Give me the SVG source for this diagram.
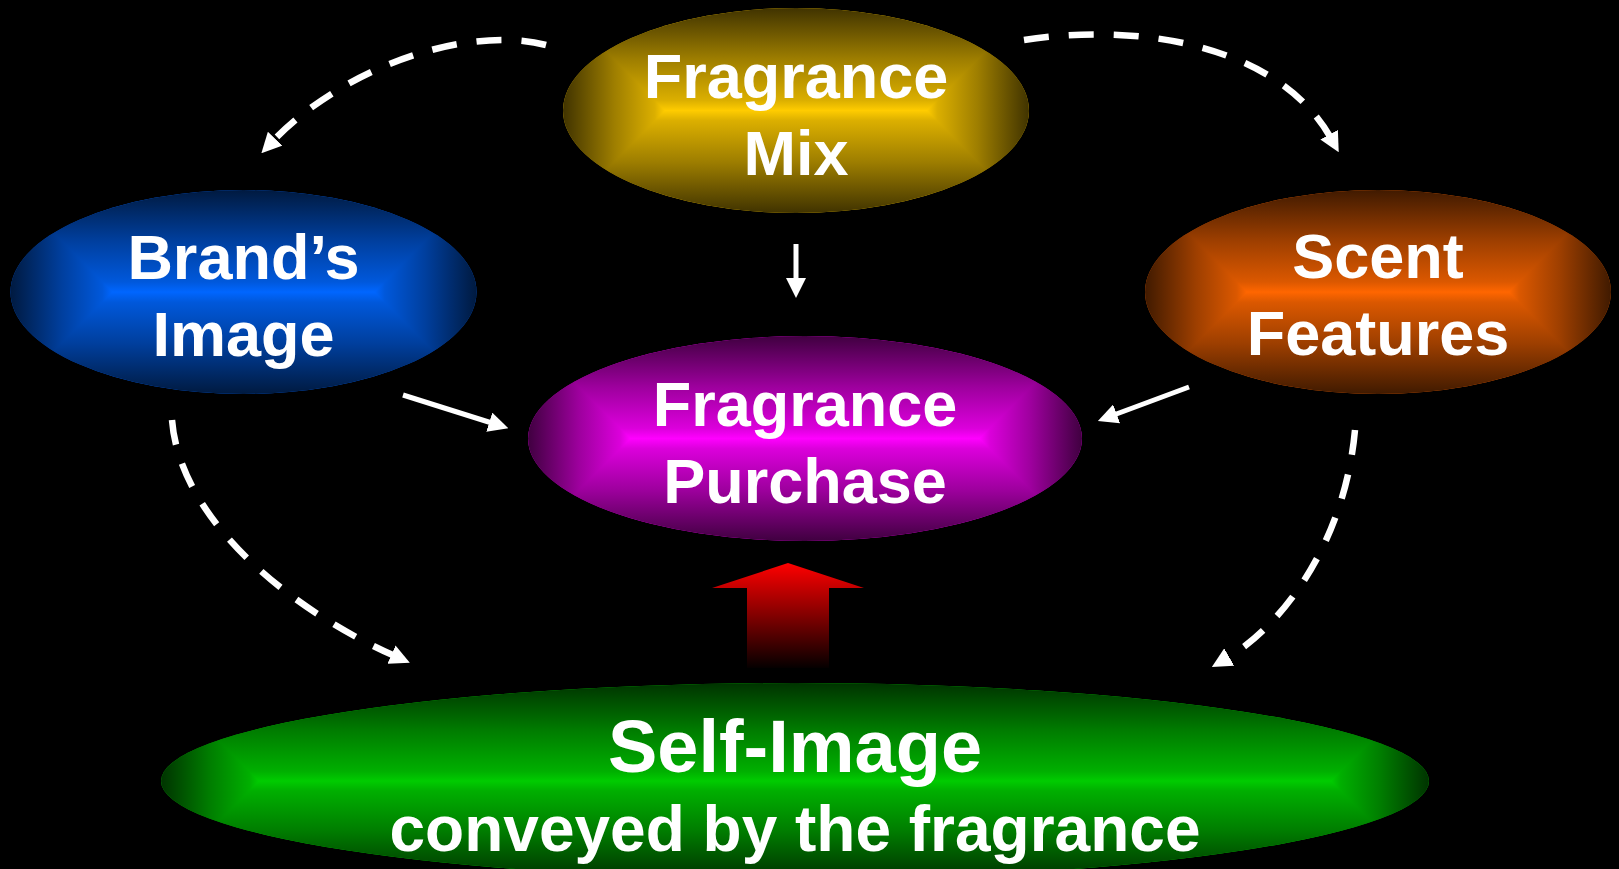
<svg xmlns="http://www.w3.org/2000/svg" width="1619" height="869" viewBox="0 0 1619 869">
<style>
.lbl{font-family:"Liberation Sans",Arial,sans-serif;font-weight:bold;fill:#fff;text-anchor:middle}
.t63{font-size:63px}
.t74{font-size:74px}
.t64{font-size:64px}
.dash{fill:none;stroke:#fff;stroke-width:6.5;stroke-dasharray:25 20;marker-end:url(#ah)}
.solid{fill:none;stroke:#fff;stroke-width:5;marker-end:url(#ah)}
.blend{mix-blend-mode:darken}
.iso{isolation:isolate}
</style>
<defs>
<marker id="ah" viewBox="0 0 20 20" refX="6" refY="10" markerWidth="20" markerHeight="20" markerUnits="userSpaceOnUse" orient="auto">
<path d="M0,0 L20,10 L0,20 z" fill="#fff"/>
</marker>
<linearGradient id="yV" x1="0" y1="0" x2="0" y2="1">
<stop offset="0" stop-color="#403300"/><stop offset="0.25" stop-color="#9e7e00"/><stop offset="0.45" stop-color="#dbaf00"/><stop offset="0.5" stop-color="#ffcc00"/><stop offset="0.55" stop-color="#dbaf00"/><stop offset="0.75" stop-color="#9e7e00"/><stop offset="1" stop-color="#403300"/>
</linearGradient>
<linearGradient id="yH" x1="0" y1="0" x2="1" y2="0">
<stop offset="0" stop-color="#403300"/><stop offset="0.11" stop-color="#9e7e00"/><stop offset="0.197" stop-color="#dbaf00"/><stop offset="0.219" stop-color="#ffcc00"/><stop offset="0.781" stop-color="#ffcc00"/><stop offset="0.803" stop-color="#dbaf00"/><stop offset="0.89" stop-color="#9e7e00"/><stop offset="1" stop-color="#403300"/>
</linearGradient>
<linearGradient id="bV" x1="0" y1="0" x2="0" y2="1">
<stop offset="0" stop-color="#001a40"/><stop offset="0.25" stop-color="#003f9e"/><stop offset="0.45" stop-color="#0058db"/><stop offset="0.5" stop-color="#0066ff"/><stop offset="0.55" stop-color="#0058db"/><stop offset="0.75" stop-color="#003f9e"/><stop offset="1" stop-color="#001a40"/>
</linearGradient>
<linearGradient id="bH" x1="0" y1="0" x2="1" y2="0">
<stop offset="0" stop-color="#001a40"/><stop offset="0.11" stop-color="#003f9e"/><stop offset="0.197" stop-color="#0058db"/><stop offset="0.219" stop-color="#0066ff"/><stop offset="0.781" stop-color="#0066ff"/><stop offset="0.803" stop-color="#0058db"/><stop offset="0.89" stop-color="#003f9e"/><stop offset="1" stop-color="#001a40"/>
</linearGradient>
<linearGradient id="oV" x1="0" y1="0" x2="0" y2="1">
<stop offset="0" stop-color="#401a00"/><stop offset="0.25" stop-color="#9e3f00"/><stop offset="0.45" stop-color="#db5800"/><stop offset="0.5" stop-color="#ff6600"/><stop offset="0.55" stop-color="#db5800"/><stop offset="0.75" stop-color="#9e3f00"/><stop offset="1" stop-color="#401a00"/>
</linearGradient>
<linearGradient id="oH" x1="0" y1="0" x2="1" y2="0">
<stop offset="0" stop-color="#401a00"/><stop offset="0.11" stop-color="#9e3f00"/><stop offset="0.197" stop-color="#db5800"/><stop offset="0.219" stop-color="#ff6600"/><stop offset="0.781" stop-color="#ff6600"/><stop offset="0.803" stop-color="#db5800"/><stop offset="0.89" stop-color="#9e3f00"/><stop offset="1" stop-color="#401a00"/>
</linearGradient>
<linearGradient id="mV" x1="0" y1="0" x2="0" y2="1">
<stop offset="0" stop-color="#400040"/><stop offset="0.25" stop-color="#9e009e"/><stop offset="0.45" stop-color="#db00db"/><stop offset="0.5" stop-color="#ff00ff"/><stop offset="0.55" stop-color="#db00db"/><stop offset="0.75" stop-color="#9e009e"/><stop offset="1" stop-color="#400040"/>
</linearGradient>
<linearGradient id="mH" x1="0" y1="0" x2="1" y2="0">
<stop offset="0" stop-color="#400040"/><stop offset="0.0925" stop-color="#9e009e"/><stop offset="0.1665" stop-color="#db00db"/><stop offset="0.185" stop-color="#ff00ff"/><stop offset="0.815" stop-color="#ff00ff"/><stop offset="0.8335" stop-color="#db00db"/><stop offset="0.9075" stop-color="#9e009e"/><stop offset="1" stop-color="#400040"/>
</linearGradient>
<linearGradient id="gV" x1="0" y1="0" x2="0" y2="1">
<stop offset="0" stop-color="#003300"/><stop offset="0.25" stop-color="#007e00"/><stop offset="0.45" stop-color="#00af00"/><stop offset="0.5" stop-color="#00cc00"/><stop offset="0.55" stop-color="#00af00"/><stop offset="0.75" stop-color="#007e00"/><stop offset="1" stop-color="#003300"/>
</linearGradient>
<linearGradient id="gH" x1="0" y1="0" x2="1" y2="0">
<stop offset="0" stop-color="#003300"/><stop offset="0.0387" stop-color="#007e00"/><stop offset="0.0696" stop-color="#00af00"/><stop offset="0.0773" stop-color="#00cc00"/><stop offset="0.9227" stop-color="#00cc00"/><stop offset="0.9304" stop-color="#00af00"/><stop offset="0.9613" stop-color="#007e00"/><stop offset="1" stop-color="#003300"/>
</linearGradient>
<linearGradient id="red" gradientUnits="userSpaceOnUse" x1="0" y1="563" x2="0" y2="670">
<stop offset="0" stop-color="#ff0000"/><stop offset="1" stop-color="#000000"/>
</linearGradient>
</defs>
<rect x="0" y="0" width="1619" height="869" fill="#000"/>

<g id="connectors">
<path class="dash" d="M546,45 C470,25 345,65 271,143"/>
<path class="dash" d="M1024,40 C1140,22 1280,45 1332,140"/>
<path class="dash" d="M172,420 C180,520 290,610 397,657"/>
<path class="dash" d="M1355,430 C1345,540 1285,625 1224,660"/>
<path class="solid" d="M796,244 L796,284"/>
<path class="solid" d="M403,395 L495,424"/>
<path class="solid" d="M1189,387 L1111,416"/>
<polygon id="big-arrow" points="788,563 864,588 829,588 829,668 747,668 747,588 712,588" fill="url(#red)"/>
</g>

<g id="fragrance-mix">
<g class="iso">
<ellipse cx="796" cy="110.5" rx="233" ry="102.5" fill="url(#yV)"/>
<ellipse class="blend" cx="796" cy="110.5" rx="233" ry="102.5" fill="url(#yH)"/>
</g>
<text class="lbl t63" x="796" y="98">Fragrance</text>
<text class="lbl t63" x="796" y="175">Mix</text>
</g>

<g id="brands-image">
<g class="iso">
<ellipse cx="243.5" cy="292" rx="233" ry="102" fill="url(#bV)"/>
<ellipse class="blend" cx="243.5" cy="292" rx="233" ry="102" fill="url(#bH)"/>
</g>
<text class="lbl t63" x="243.5" y="279">Brand’s</text>
<text class="lbl t63" x="243.5" y="356">Image</text>
</g>

<g id="scent-features">
<g class="iso">
<ellipse cx="1378" cy="292" rx="233" ry="102" fill="url(#oV)"/>
<ellipse class="blend" cx="1378" cy="292" rx="233" ry="102" fill="url(#oH)"/>
</g>
<text class="lbl t63" x="1378" y="278">Scent</text>
<text class="lbl t63" x="1378" y="355">Features</text>
</g>

<g id="fragrance-purchase">
<g class="iso">
<ellipse cx="805" cy="438.5" rx="277" ry="102.5" fill="url(#mV)"/>
<ellipse class="blend" cx="805" cy="438.5" rx="277" ry="102.5" fill="url(#mH)"/>
</g>
<text class="lbl t63" x="805" y="426">Fragrance</text>
<text class="lbl t63" x="805" y="503">Purchase</text>
</g>

<g id="self-image">
<g class="iso">
<ellipse cx="795" cy="781" rx="634" ry="98" fill="url(#gV)"/>
<ellipse class="blend" cx="795" cy="781" rx="634" ry="98" fill="url(#gH)"/>
</g>
<text class="lbl t74" x="795" y="772">Self-Image</text>
<text class="lbl t64" x="795" y="851">conveyed by the fragrance</text>
</g>
</svg>
